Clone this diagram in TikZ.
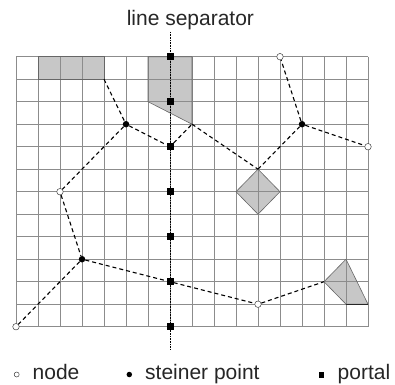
\documentclass[tikz,border=0pt]{standalone}
\usepackage{fontspec}
\setmainfont{Liberation Sans}
\begin{document}
\begin{tikzpicture}[x=1pt,y=-1pt,
  gridline/.style={draw=black!45, line width=0.5pt},
  shapefill/.style={fill=black!22},
  shapeline/.style={draw=black!60, line width=0.6pt},
  edge/.style={draw=black, line width=1.1pt, dash pattern=on 4pt off 3pt},
  sepline/.style={draw=black, line width=0.7pt, dash pattern=on 0.7pt off 0.9pt},
  opennode/.style={circle, draw=black!75, fill=white, line width=0.5pt, minimum size=6.5pt, inner sep=0pt},
  steiner/.style={circle, fill=black, minimum size=6.5pt, inner sep=0pt},
  portal/.style={rectangle, fill=black, minimum size=7pt, inner sep=0pt},
  lbl/.style={font=\fontsize{21}{24}\selectfont, text=black!85, inner sep=0pt, anchor=base west}
]
\useasboundingbox (0,0) rectangle (395,384);
\begin{scope}[shift={(16,56.7)}, x=22pt, y=-22.5pt]
  % shape corners
  \coordinate (r1) at (1,0); \coordinate (r2) at (4,0);
  \coordinate (r3) at (4,1); \coordinate (r4) at (1,1);
  \coordinate (q1) at (6,0); \coordinate (q2) at (8,0);
  \coordinate (q3) at (8,3); \coordinate (q4) at (6,2);
  \coordinate (d1) at (11,5); \coordinate (d2) at (12,6);
  \coordinate (d3) at (11,7); \coordinate (d4) at (10,6);
  \coordinate (t1) at (15,9); \coordinate (t2) at (16,11);
  \coordinate (t3) at (15,11); \coordinate (t4) at (14,10);
  % fills
  \fill[shapefill] (r1) -- (r2) -- (r3) -- (r4) -- cycle;
  \fill[shapefill] (q1) -- (q2) -- (q3) -- (q4) -- cycle;
  \fill[shapefill] (d1) -- (d2) -- (d3) -- (d4) -- cycle;
  \fill[shapefill] (t1) -- (t2) -- (t3) -- (t4) -- cycle;
  % grid
  \foreach \i in {0,...,16} \draw[gridline] (\i,0) -- (\i,12);
  \foreach \j in {0,...,12} \draw[gridline] (0,\j) -- (16,\j);
  % outlines
  \draw[shapeline] (r1) -- (r2) -- (r3) -- (r4) -- cycle;
  \draw[shapeline] (q1) -- (q2) -- (q3) -- (q4) -- cycle;
  \draw[shapeline] (d1) -- (d2) -- (d3) -- (d4) -- cycle;
  \draw[shapeline] (t1) -- (t2) -- (t3) -- (t4) -- cycle;
  \draw[black!85, line width=0.8pt] (t3) -- (t2);
  % separator
  \coordinate (septop) at (7,-1.1);
  \coordinate (sepbot) at (7,13.05);
  \draw[sepline] (septop) -- (sepbot);
  % portals
  \foreach \k/\r in {0/0,1/2,2/4,3/6,4/8,5/10,6/12}
    \node[portal] (p\k) at (7,\r) {};
  % steiner points
  \node[steiner] (s1) at (5,3) {};
  \node[steiner] (s2) at (13,3) {};
  \node[steiner] (s3) at (3,9) {};
  % nodes
  \node[opennode] (n1) at (12,0) {};
  \node[opennode] (n2) at (16,4) {};
  \node[opennode] (n3) at (2,6) {};
  \node[opennode] (n4) at (0,12) {};
  \node[opennode] (n5) at (11,11) {};
  % edges
  \draw[edge] (r3) -- (s1);
  \draw[edge] (s1) -- (p2);
  \draw[edge] (s1) -- (n3);
  \draw[edge] (p2) -- (q3);
  \draw[edge] (q3) -- (d1);
  \draw[edge] (d1) -- (s2);
  \draw[edge] (s2) -- (n1);
  \draw[edge] (s2) -- (n2);
  \draw[edge] (n3) -- (s3);
  \draw[edge] (s3) -- (n4);
  \draw[edge] (s3) -- (p5);
  \draw[edge] (p5) -- (n5);
  \draw[edge] (n5) -- (t4);
\end{scope}
% title
\node[lbl, anchor=base] (title) at (190.4,25) {line separator};
% legend
\node[opennode, minimum size=5pt] (lg1) at (16.7,374.5) {};
\node[lbl] (lt1) at (32.5,379.5) {node};
\node[steiner, minimum size=5.5pt] (lg2) at (129.3,374.5) {};
\node[lbl] (lt2) at (145,379.5) {steiner point};
\node[portal, minimum size=5.5pt] (lg3) at (321.7,375) {};
\node[lbl] (lt3) at (337.5,379.5) {portal};
\end{tikzpicture}
\end{document}
